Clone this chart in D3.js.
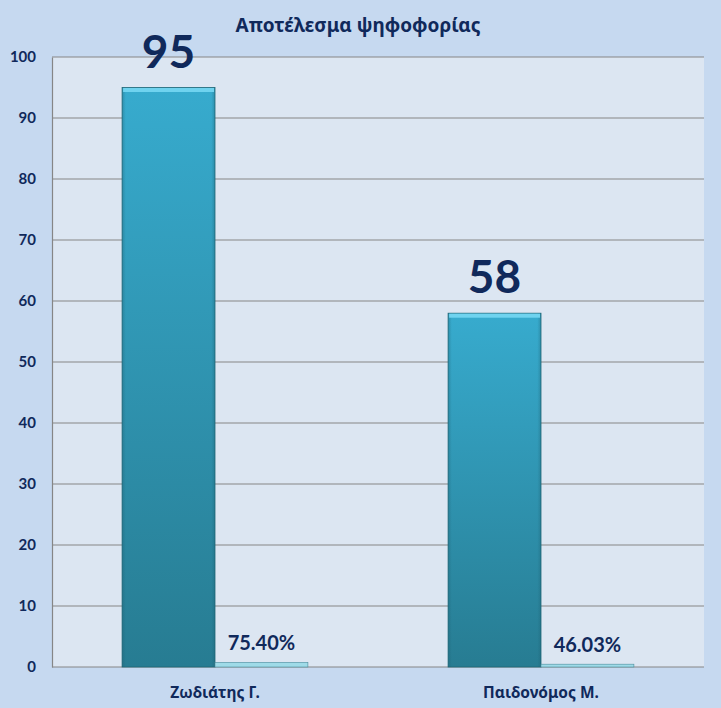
<!doctype html>
<html>
<head>
  <meta charset="utf-8">
  <script src="https://cdn.jsdelivr.net/npm/d3@7"></script>
  <style>
    html, body { margin: 0; padding: 0; background: #c6d9f0; }
    text { font-family: Lato, "Noto Sans", sans-serif; font-weight: bold; fill: #10295b; }
    text.greek { font-family: "Noto Sans", sans-serif; }
  </style>
</head>
<body>
  <div id="viz"></div>
  <script>
    // chart data
    var title = "Αποτέλεσμα ψηφοφορίας";
    var candidates = ["Ζωδιάτης Γ.", "Παιδονόμος Μ."];
    var votes = [95, 58];
    var shares = [0.754, 0.4603];
    var yTicks = [0, 10, 20, 30, 40, 50, 60, 70, 80, 90, 100];

    var W = 721, H = 708;
    var plot = {left: 52, right: 704, top: 57, bottom: 667};

    var svg = d3.select("#viz").append("svg")
        .attr("width", W).attr("height", H);

    var defs = svg.append("defs");
    var grad = defs.append("linearGradient").attr("id", "barGrad")
        .attr("x1", 0).attr("y1", 0).attr("x2", 0).attr("y2", 1);
    grad.append("stop").attr("offset", "0%").attr("stop-color", "#37abce");
    grad.append("stop").attr("offset", "100%").attr("stop-color", "#277c92");

    var side = defs.append("linearGradient").attr("id", "sideGrad")
        .attr("x1", 0).attr("y1", 0).attr("x2", 1).attr("y2", 0);
    side.append("stop").attr("offset", "0%").attr("stop-color", "#1d5e70").attr("stop-opacity", 0.35);
    side.append("stop").attr("offset", "4%").attr("stop-color", "#1d5e70").attr("stop-opacity", 0);
    side.append("stop").attr("offset", "96%").attr("stop-color", "#1d5e70").attr("stop-opacity", 0);
    side.append("stop").attr("offset", "100%").attr("stop-color", "#1d5e70").attr("stop-opacity", 0.35);

    svg.append("rect").attr("width", W).attr("height", H).attr("fill", "#c6d9f0");

    // plot area
    svg.append("rect")
        .attr("x", plot.left).attr("y", plot.top)
        .attr("width", plot.right - plot.left).attr("height", plot.bottom - plot.top)
        .attr("fill", "#dce6f2");

    var x = d3.scaleBand().domain(candidates)
        .range([plot.left, plot.right])
        .paddingInner(0.43).paddingOuter(0.215);
    var xs = d3.scaleBand().domain(["votes", "share"]).range([0, x.bandwidth()]);
    var y = d3.scaleLinear().domain([0, 100]).range([plot.bottom, plot.top]);

    // gridlines
    svg.append("g").selectAll("line").data(yTicks.slice(1)).enter().append("line")
        .attr("x1", plot.left).attr("x2", plot.right)
        .attr("y1", function(d) { return y(d); }).attr("y2", function(d) { return y(d); })
        .attr("stroke", "#868686").attr("stroke-width", 1.2);

    // y axis
    var yAxis = svg.append("g")
        .attr("transform", "translate(" + plot.left + ",0)")
        .call(d3.axisLeft(y).tickValues(yTicks).tickSize(0).tickPadding(16));
    yAxis.select(".domain").attr("stroke", "#868686").attr("stroke-width", 1.2);
    yAxis.selectAll("text").style("font-size", "15px").attr("fill", "#10295b");

    // x axis
    svg.append("line")
        .attr("x1", plot.left).attr("x2", plot.right)
        .attr("y1", plot.bottom).attr("y2", plot.bottom)
        .attr("stroke", "#868686").attr("stroke-width", 1.2);
    svg.append("g").selectAll("text").data(candidates).enter().append("text")
        .attr("class", "greek")
        .attr("x", function(d) { return x(d) + x.bandwidth() / 2; })
        .attr("y", 698)
        .attr("text-anchor", "middle")
        .style("font-size", "15.5px")
        .text(function(d) { return d; });

    // votes bars
    var vg = svg.append("g").selectAll("g").data(candidates).enter().append("g");
    vg.append("rect")
        .attr("x", function(d) { return x(d) + xs("votes"); })
        .attr("y", function(d, i) { return y(votes[i]); })
        .attr("width", xs.bandwidth())
        .attr("height", function(d, i) { return y(0) - y(votes[i]); })
        .attr("fill", "url(#barGrad)")
        .attr("stroke", "#1f6677").attr("stroke-width", 0.8);
    vg.append("rect")
        .attr("x", function(d) { return x(d) + xs("votes"); })
        .attr("y", function(d, i) { return y(votes[i]); })
        .attr("width", xs.bandwidth())
        .attr("height", function(d, i) { return y(0) - y(votes[i]); })
        .attr("fill", "url(#sideGrad)");
    vg.append("rect")
        .attr("x", function(d) { return x(d) + xs("votes") + 1; })
        .attr("y", function(d, i) { return y(votes[i]) + 0.5; })
        .attr("width", xs.bandwidth() - 2)
        .attr("height", 4)
        .attr("fill", "#6fd3ef");
    vg.append("text")
        .attr("x", function(d) { return x(d) + xs("votes") + xs.bandwidth() / 2; })
        .attr("y", function(d, i) { return y(votes[i]) - 20; })
        .attr("text-anchor", "middle")
        .style("font-size", "46px")
        .text(function(d, i) { return votes[i]; });

    // share bars (same axis, so they sit almost flat)
    var sg = svg.append("g").selectAll("g").data(candidates).enter().append("g");
    sg.append("rect")
        .attr("x", function(d) { return x(d) + xs("share"); })
        .attr("y", function(d, i) { return y(shares[i]); })
        .attr("width", xs.bandwidth())
        .attr("height", function(d, i) { return y(0) - y(shares[i]); })
        .attr("fill", "#9fdbe8")
        .attr("stroke", "#4a8c9c").attr("stroke-width", 0.6);
    sg.append("text")
        .attr("x", function(d) { return x(d) + xs("share") + xs.bandwidth() / 2; })
        .attr("y", function(d, i) { return y(shares[i]) - 12; })
        .attr("text-anchor", "middle")
        .style("font-size", "20px")
        .text(function(d, i) { return d3.format(".2%")(shares[i]); });

    // title
    svg.append("text")
        .attr("class", "greek")
        .attr("x", 358).attr("y", 32)
        .attr("text-anchor", "middle")
        .style("font-size", "19px")
        .text(title);
  </script>
</body>
</html>
